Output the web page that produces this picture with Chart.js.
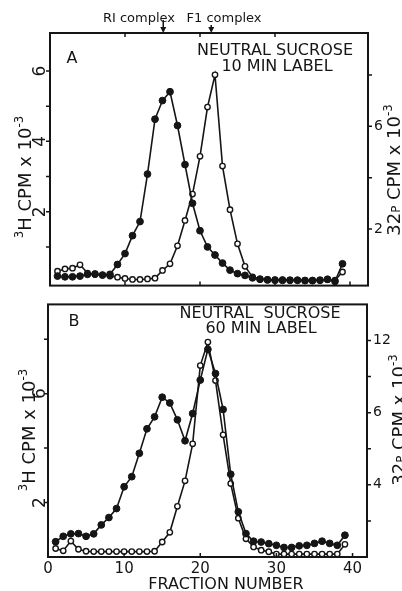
<!DOCTYPE html>
<html>
<head>
<meta charset="utf-8">
<script src="https://cdn.jsdelivr.net/npm/chart.js@4.4.1/dist/chart.umd.min.js"></script>
<style>
  html, body { margin: 0; padding: 0; background: #fff; }
  body { width: 402px; height: 591px; position: relative; overflow: hidden; }
  canvas { position: absolute; left: 0; }
  #chartA { top: 0; }
  #chartB { top: 290px; }
</style>
</head>
<body>
<canvas id="chartA" width="402" height="300"></canvas>
<canvas id="chartB" width="402" height="301"></canvas>
<script>
// fraction numbers (x)
var fractions = [1, 2, 3, 4, 5, 6, 7, 8, 9, 10, 11, 12, 13, 14, 15, 16, 17, 18, 19, 20,
                 21, 22, 23, 24, 25, 26, 27, 28, 29, 30, 31, 32, 33, 34, 35, 36, 37, 38, 39];

// panel A - 10 min label
var h3A = [0.17, 0.15, 0.15, 0.17, 0.22, 0.23, 0.20, 0.22, 0.50, 0.81,
           1.32, 1.72, 3.07, 4.63, 5.16, 5.41, 4.45, 3.34, 2.24, 1.46,
           1.00, 0.77, 0.54, 0.34, 0.24, 0.19, 0.12, 0.08, 0.06, 0.05,
           0.05, 0.05, 0.05, 0.04, 0.04, 0.05, 0.08, 0.02, 0.52];
var p32A = [0.35, 0.44, 0.47, 0.60, 0.28, 0.22, 0.20, 0.16, 0.12, 0.07,
            0.03, 0.03, 0.05, 0.08, 0.38, 0.64, 1.34, 2.33, 3.36, 4.83,
            6.75, 8.01, 4.45, 2.75, 1.42, 0.54, 0.13, 0.05, 0.03, 0.02,
            0.02, 0.01, 0.01, 0.00, 0.00, 0.01, 0.02, 0.00, 0.32];

// panel B - 60 min label
var h3B = [0.56, 0.76, 0.85, 0.86, 0.76, 0.85, 1.18, 1.45, 1.78, 2.58,
           2.95, 3.81, 4.71, 5.15, 5.87, 5.66, 5.04, 4.27, 5.27, 6.50,
           7.63, 6.74, 5.42, 3.04, 1.66, 0.86, 0.58, 0.55, 0.49, 0.43,
           0.35, 0.35, 0.41, 0.43, 0.50, 0.58, 0.50, 0.43, 0.80];
var p32B = [0.47, 0.34, 0.88, 0.43, 0.32, 0.30, 0.30, 0.30, 0.30, 0.30,
            0.30, 0.30, 0.30, 0.32, 0.83, 1.37, 2.81, 4.22, 6.27, 10.61,
            11.91, 9.78, 6.77, 4.07, 2.15, 1.01, 0.56, 0.38, 0.29, 0.16,
            0.16, 0.16, 0.16, 0.16, 0.16, 0.16, 0.16, 0.16, 0.70];

// ticks and their printed labels
var xTicks = [0, 10, 20, 30, 40];
var xLabels = ['0', '10', '20', '30', '40'];
var leftTicksA = [1, 2, 3, 4, 5, 6];
var leftLabelsA = ['', '2', '', '4', '', '6'];
var rightTicksA = [2, 4, 6, 8];
var rightLabelsA = ['2', '', '6', ''];
var leftTicksB = [2, 4, 6, 8];
var leftLabelsB = ['2', '', '6', ''];
var rightTicksB = [2, 4, 6, 8, 10, 12];
var rightLabelsB = ['', '4', '', '6', '', '12'];

var INK = '#151515';
var FONT = '"DejaVu Sans", sans-serif';

function txt(ctx, s, x, y, size, align) {
    ctx.font = size + 'px ' + FONT;
    ctx.textAlign = align || 'center';
    ctx.textBaseline = 'alphabetic';
    ctx.fillText(s, x, y);
}

// vertical title read from bottom to top; parts = [text, 'sup' | 'small' | null]
function sideTitle(ctx, parts, bx, cy, size) {
    ctx.save();
    ctx.translate(bx, cy);
    ctx.rotate(-Math.PI / 2);
    ctx.textAlign = 'left';
    ctx.textBaseline = 'alphabetic';
    var w = 0;
    parts.forEach(function (p) {
        ctx.font = (p[1] ? size * 0.65 : size) + 'px ' + FONT;
        w += ctx.measureText(p[0]).width;
    });
    var x = -w / 2;
    parts.forEach(function (p) {
        ctx.font = (p[1] ? size * 0.65 : size) + 'px ' + FONT;
        ctx.fillText(p[0], x, p[1] === 'sup' ? -size * 0.45 : 0);
        x += ctx.measureText(p[0]).width;
    });
    ctx.restore();
}

function arrowDown(ctx, x, y0, y1) {
    ctx.beginPath();
    ctx.moveTo(x, y0);
    ctx.lineTo(x, y1 - 4);
    ctx.stroke();
    ctx.beginPath();
    ctx.moveTo(x - 3, y1 - 6);
    ctx.lineTo(x + 3, y1 - 6);
    ctx.lineTo(x, y1);
    ctx.closePath();
    ctx.fill();
}

// frame, inward x ticks, outward y ticks, rotated left labels, titles
var decor = {
    id: 'decor',
    afterDraw: function (chart, args, o) {
        var ctx = chart.ctx, a = chart.chartArea;
        var sx = chart.scales.x, yl = chart.scales.yL, yr = chart.scales.yR;
        ctx.save();
        ctx.strokeStyle = INK;
        ctx.fillStyle = INK;
        ctx.lineWidth = 2;
        ctx.strokeRect(a.left, a.top, a.right - a.left, a.bottom - a.top);

        ctx.lineWidth = 1.5;
        ctx.beginPath();
        xTicks.forEach(function (v) {
            var px = sx.getPixelForValue(v);
            ctx.moveTo(px, a.bottom);
            ctx.lineTo(px, a.bottom - 4);
        });
        (o.topTicks || []).forEach(function (v) {
            var px = sx.getPixelForValue(v);
            ctx.moveTo(px, a.top);
            ctx.lineTo(px, a.top + 4);
        });
        o.leftTicks.forEach(function (v) {
            var py = yl.getPixelForValue(v);
            ctx.moveTo(a.left, py);
            ctx.lineTo(a.left - 4, py);
        });
        o.rightTicks.forEach(function (v) {
            var py = yr.getPixelForValue(v);
            ctx.moveTo(a.right, py);
            ctx.lineTo(a.right + 4, py);
        });
        ctx.stroke();

        // left tick labels are turned like the axis title
        o.leftTicks.forEach(function (v, i) {
            if (!o.leftLabels[i]) return;
            ctx.save();
            ctx.translate(45, yl.getPixelForValue(v));
            ctx.rotate(-Math.PI / 2);
            txt(ctx, o.leftLabels[i], 0, 0, 17, 'center');
            ctx.restore();
        });

        sideTitle(ctx, [['3', 'sup'], ['H CPM x 10', null], ['-3', 'sup']], o.leftTitle[0], o.leftTitle[1], 18);
        sideTitle(ctx, [['32', null], ['P', 'small'], [' CPM x 10', null], ['-3', 'sup']], o.rightTitle[0], o.rightTitle[1], 18);

        txt(ctx, o.letter[0], o.letter[1], o.letter[2], 16, 'center');
        o.lines.forEach(function (l) {
            txt(ctx, l[0], l[1], l[2], 16, 'center');
        });

        if (o.xTitle) txt(ctx, o.xTitle[0], o.xTitle[1], o.xTitle[2], 16, 'center');

        (o.arrows || []).forEach(function (ar) {
            var px = sx.getPixelForValue(ar.at);
            txt(ctx, ar.text, ar.tx, 22, 13, 'center');
            ctx.lineWidth = 1.5;
            arrowDown(ctx, px, ar.from, a.top);
        });
        ctx.restore();
    }
};

function series(values, filled) {
    return {
        data: fractions.map(function (f, i) { return { x: f, y: values[i] }; }),
        borderColor: INK,
        borderWidth: 1.6,
        pointRadius: filled ? 3.4 : 2.7,
        pointBorderWidth: filled ? 1 : 1.4,
        pointBackgroundColor: filled ? INK : '#fff',
        pointBorderColor: INK,
        tension: 0
    };
}

function fixedTicks(values) {
    return function (scale) {
        scale.ticks = values.map(function (v) { return { value: v }; });
    };
}

function makePanel(id, p) {
    var h3 = series(p.h3, true);
    h3.yAxisID = 'yL';
    var p32 = series(p.p32, false);
    p32.yAxisID = 'yR';

    return new Chart(document.getElementById(id), {
        type: 'line',
        data: { datasets: [h3, p32] },
        options: {
            responsive: false,
            animation: false,
            devicePixelRatio: 1,
            layout: { padding: { top: p.padTop, left: 0, right: 0, bottom: 0 } },
            plugins: {
                legend: { display: false },
                tooltip: { enabled: false },
                decor: p.decor
            },
            scales: {
                x: {
                    type: 'linear',
                    position: 'bottom',
                    min: p.xRange[0],
                    max: p.xRange[1],
                    grid: { display: false, drawTicks: false },
                    border: { display: false },
                    afterBuildTicks: fixedTicks(xTicks),
                    afterFit: function (s) { s.height = p.xHeight; },
                    ticks: {
                        display: p.showX,
                        padding: 3,
                        color: INK,
                        autoSkip: false,
                        maxRotation: 0,
                        font: { family: FONT, size: 15 },
                        callback: function (v) { return xLabels[xTicks.indexOf(v)]; }
                    }
                },
                yL: {
                    type: 'linear',
                    position: 'left',
                    min: p.leftRange[0],
                    max: p.leftRange[1],
                    grid: { display: false, drawTicks: false },
                    border: { display: false },
                    afterFit: function (s) { s.width = p.leftWidth; },
                    ticks: { display: false }
                },
                yR: {
                    type: 'linear',
                    position: 'right',
                    min: p.rightRange[0],
                    max: p.rightRange[1],
                    grid: { display: false, drawTicks: false },
                    border: { display: false },
                    afterBuildTicks: fixedTicks(p.rightTicks),
                    afterFit: function (s) { s.width = p.rightWidth; },
                    ticks: {
                        padding: 6,
                        color: INK,
                        autoSkip: false,
                        font: { family: FONT, size: 14 },
                        callback: function (v) { return p.rightLabels[p.rightTicks.indexOf(v)]; }
                    }
                }
            }
        },
        plugins: [decor]
    });
}

makePanel('chartA', {
    h3: h3A, p32: p32A,
    padTop: 33, xHeight: 7, leftWidth: 50, rightWidth: 34,
    xRange: [0, 42.4], leftRange: [-0.1, 7.08], rightRange: [-0.21, 9.64],
    showX: false,
    rightTicks: rightTicksA, rightLabels: rightLabelsA,
    decor: {
        leftTicks: leftTicksA, leftLabels: leftLabelsA, rightTicks: rightTicksA,
        topTicks: [10, 20, 30],
        leftTitle: [31, 177], rightTitle: [400, 170],
        letter: ['A', 72, 63],
        lines: [['NEUTRAL SUCROSE', 275, 55], ['10 MIN LABEL', 277, 71]],
        arrows: [
            { text: 'RI complex', tx: 139, at: 15.1, from: 20 },
            { text: 'F1 complex', tx: 224, at: 21.5, from: 25 }
        ]
    }
});

makePanel('chartB', {
    h3: h3B, p32: p32B,
    padTop: 8, xHeight: 34, leftWidth: 48, rightWidth: 35,
    xRange: [0, 41.9], leftRange: [0, 9.28], rightRange: [0, 14.0],
    showX: true,
    rightTicks: rightTicksB, rightLabels: rightLabelsB,
    decor: {
        leftTicks: leftTicksB, leftLabels: leftLabelsB, rightTicks: rightTicksB,
        leftTitle: [35, 140], rightTitle: [405, 130],
        letter: ['B', 74, 36],
        lines: [['NEUTRAL  SUCROSE', 260, 28], ['60 MIN LABEL', 261, 43]],
        xTitle: ['FRACTION NUMBER', 226, 299]
    }
});
</script>
</body>
</html>
